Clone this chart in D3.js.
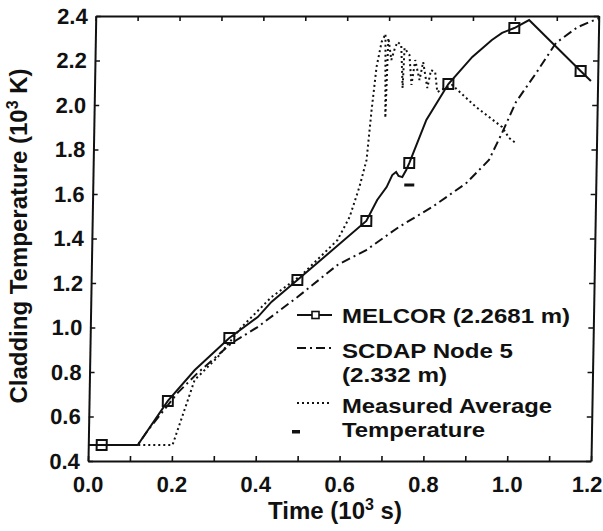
<!DOCTYPE html>
<html>
<head>
<meta charset="utf-8">
<script src="https://cdn.jsdelivr.net/npm/d3@7"></script>
<style>
  body { margin: 0; background: #fff; }
  text { font-family: "Liberation Sans", Arial, sans-serif; fill: #111; }
</style>
</head>
<body>
<div id="container"></div>
<script>
/* DATA (time in 10^3 s, temperature in 10^3 K) */
const melcorTime = [0, 0.118, 0.188, 0.251, 0.332, 0.399, 0.431, 0.492, 0.654, 0.679, 0.701, 0.714, 0.723, 0.729, 0.738, 0.747, 0.754, 0.793, 0.844, 0.900, 0.946, 0.970, 0.999, 1.034, 1.159, 1.184]
const melcorTemp = [0.472, 0.472, 0.670, 0.809, 0.953, 1.047, 1.115, 1.213, 1.479, 1.573, 1.631, 1.685, 1.699, 1.681, 1.676, 1.708, 1.739, 1.933, 2.094, 2.216, 2.292, 2.324, 2.346, 2.382, 2.153, 2.108]
const markerTime = [0.032, 0.188, 0.332, 0.492, 0.654, 0.754, 0.844, 0.999, 1.159]
const markerTemp = [0.472, 0.670, 0.953, 1.213, 1.479, 1.739, 2.094, 2.346, 2.153]

const scdapTime = [0, 0.118, 0.142, 0.211, 0.258, 0.338, 0.399, 0.493, 0.587, 0.655, 0.732, 0.811, 0.891, 0.944, 0.974, 1.006, 1.053, 1.099, 1.150, 1.2]
const scdapTemp = [0.472, 0.472, 0.539, 0.706, 0.796, 0.930, 1.002, 1.137, 1.281, 1.348, 1.452, 1.542, 1.649, 1.753, 1.874, 2.013, 2.144, 2.279, 2.350, 2.390]

const measTime = [0, 0.201, 0.228, 0.251, 0.305, 0.361, 0.431, 0.502, 0.586, 0.614, 0.636, 0.652, 0.662, 0.672, 0.683, 0.692, 0.695, 0.699, 0.707, 0.715, 0.721, 0.730, 0.735, 0.738, 0.750, 0.756, 0.764, 0.775, 0.783, 0.794, 0.802, 0.812, 0.818, 0.827, 0.853, 0.911, 0.974, 0.991, 1.007]
const measTemp = [0.472, 0.472, 0.629, 0.764, 0.867, 1.002, 1.137, 1.236, 1.393, 1.497, 1.631, 1.753, 1.978, 2.171, 2.283, 2.319, 1.942, 2.301, 2.202, 2.256, 2.283, 2.270, 2.076, 2.256, 2.225, 2.090, 2.202, 2.112, 2.193, 2.076, 2.157, 2.148, 2.058, 2.067, 2.090, 1.991, 1.901, 1.852, 1.829]

const dashTime = [0.755]
const dashTemp = [1.640]

const xTicks = [0, 0.1, 0.2, 0.3, 0.4, 0.5, 0.6, 0.7, 0.8, 0.9, 1.0, 1.1, 1.2]
const xLabels = ["0.0", "0.2", "0.4", "0.6", "0.8", "1.0", "1.2"]
const yTicks = [0.4, 0.6, 0.8, 1.0, 1.2, 1.4, 1.6, 1.8, 2.0, 2.2, 2.4]
const yLabels = ["0.4", "0.6", "0.8", "1.0", "1.2", "1.4", "1.6", "1.8", "2.0", "2.2", "2.4"]

const legendLabels = [["MELCOR (2.2681 m)"], ["SCDAP Node 5", "(2.332 m)"], ["Measured Average", "Temperature"]]

/* CONSTANTS */
const width = 603, height = 531
const x0 = 88, x1 = 591, yBot = 461, yTop = 16

const zip = (a, b) => a.map((v, i) => [v, b[i]])

/* SCALES */
const xScale = d3.scaleLinear().domain([0, 1.2]).range([x0, x1])
const yScale = d3.scaleLinear().domain([0.4, 2.4]).range([yBot, yTop])

const svg = d3.select("#container")
  .append("svg")
  .attr("width", width)
  .attr("height", height)

// the scanned figure leans slightly to the right
const plot = svg.append("g")
  .attr("transform", `translate(0,${yBot}) skewX(-1) translate(0,${-yBot})`)

const fmtX = d => { const s = d3.format(".1f")(d); return xLabels.includes(s) ? s : "" }
const fmtY = d => { const s = d3.format(".1f")(d); return yLabels.includes(s) ? s : "" }

// axes, ticks pointing inward
plot.append("g")
  .attr("class", "x-axis")
  .attr("transform", `translate(0,${yBot})`)
  .call(d3.axisBottom(xScale).tickValues(xTicks).tickFormat(fmtX).tickSize(-5).tickSizeOuter(0).tickPadding(15))
plot.append("g")
  .attr("transform", `translate(0,${yTop})`)
  .call(d3.axisTop(xScale).tickValues(xTicks).tickFormat("").tickSize(-5).tickSizeOuter(0))
plot.append("g")
  .attr("transform", `translate(${x0},0)`)
  .call(d3.axisLeft(yScale).tickValues(yTicks).tickFormat(fmtY).tickSize(-5).tickSizeOuter(0).tickPadding(8))
plot.append("g")
  .attr("transform", `translate(${x1},0)`)
  .call(d3.axisRight(yScale).tickValues(yTicks).tickFormat("").tickSize(-5).tickSizeOuter(0))

plot.selectAll(".domain").attr("stroke", "#111").attr("stroke-width", 2)
plot.selectAll(".tick line").attr("stroke", "#111").attr("stroke-width", 1.6)
plot.selectAll(".tick text")
  .attr("font-size", 22)
  .attr("font-weight", "bold")
  .attr("font-family", "Liberation Sans, Arial, sans-serif")
  .attr("fill", "#111")
// last label sits against the page edge
plot.selectAll(".x-axis .tick text").filter(d => d === 1.2).attr("dx", -4)

// lines
const line = d3.line().x(d => xScale(d[0])).y(d => yScale(d[1]))

plot.append("path")
  .datum(zip(scdapTime, scdapTemp))
  .attr("d", line)
  .attr("fill", "none")
  .attr("stroke", "#111")
  .attr("stroke-width", 2)
  .attr("stroke-dasharray", "9,4,2,4")

plot.append("path")
  .datum(zip(measTime, measTemp))
  .attr("d", line)
  .attr("fill", "none")
  .attr("stroke", "#111")
  .attr("stroke-width", 2)
  .attr("stroke-dasharray", "2,3")

plot.append("path")
  .datum(zip(melcorTime, melcorTemp))
  .attr("d", line)
  .attr("fill", "none")
  .attr("stroke", "#111")
  .attr("stroke-width", 2)

plot.selectAll("rect.marker")
  .data(zip(markerTime, markerTemp))
  .join("rect")
  .attr("class", "marker")
  .attr("x", d => xScale(d[0]) - 5)
  .attr("y", d => yScale(d[1]) - 5)
  .attr("width", 10)
  .attr("height", 10)
  .attr("fill", "none")
  .attr("stroke", "#111")
  .attr("stroke-width", 2)

plot.selectAll("rect.tc")
  .data(zip(dashTime, dashTemp))
  .join("rect")
  .attr("class", "tc")
  .attr("x", d => xScale(d[0]) - 5)
  .attr("y", d => yScale(d[1]) - 1.5)
  .attr("width", 10)
  .attr("height", 3)
  .attr("fill", "#111")

/* LEGEND */
const legend = svg.append("g")
const rowY = [315, 350, 405]
const textW = [[228], [171, 105], [210, 143]]
legendLabels.forEach((lines, i) => {
  lines.forEach((s, j) => {
    legend.append("text")
      .attr("x", 342)
      .attr("y", rowY[i] + 8 + j * 24)
      .attr("font-size", 21)
      .attr("font-weight", "bold")
      .attr("textLength", textW[i][j])
      .attr("lengthAdjust", "spacingAndGlyphs")
      .text(s)
  })
})
legend.append("line").attr("x1", 297).attr("x2", 332).attr("y1", rowY[0]).attr("y2", rowY[0])
  .attr("stroke", "#111").attr("stroke-width", 2)
legend.append("rect").attr("x", 312).attr("y", rowY[0] - 3.5).attr("width", 7).attr("height", 7)
  .attr("fill", "#fff").attr("stroke", "#111").attr("stroke-width", 1.6)
legend.append("line").attr("x1", 297).attr("x2", 332).attr("y1", rowY[1] - 2).attr("y2", rowY[1] - 2)
  .attr("stroke", "#111").attr("stroke-width", 2).attr("stroke-dasharray", "9,4,2,4")
legend.append("line").attr("x1", 297).attr("x2", 332).attr("y1", rowY[2] - 2).attr("y2", rowY[2] - 2)
  .attr("stroke", "#111").attr("stroke-width", 2).attr("stroke-dasharray", "2,3")
legend.append("rect").attr("x", 292).attr("y", 430).attr("width", 8).attr("height", 3.5).attr("fill", "#111")

/* AXIS TITLES */
svg.append("text")
  .attr("x", 335)
  .attr("y", 519)
  .attr("text-anchor", "middle")
  .attr("font-size", 24)
  .attr("font-weight", "bold")
  .html("Time (10<tspan dy='-9' font-size='16'>3</tspan><tspan dy='9'> s)</tspan>")

svg.append("text")
  .attr("transform", "translate(27,236) rotate(-90)")
  .attr("text-anchor", "middle")
  .attr("font-size", 24)
  .attr("font-weight", "bold")
  .html("Cladding Temperature (10<tspan dy='-9' font-size='16'>3</tspan><tspan dy='9'> K)</tspan>")
</script>
</body>
</html>
